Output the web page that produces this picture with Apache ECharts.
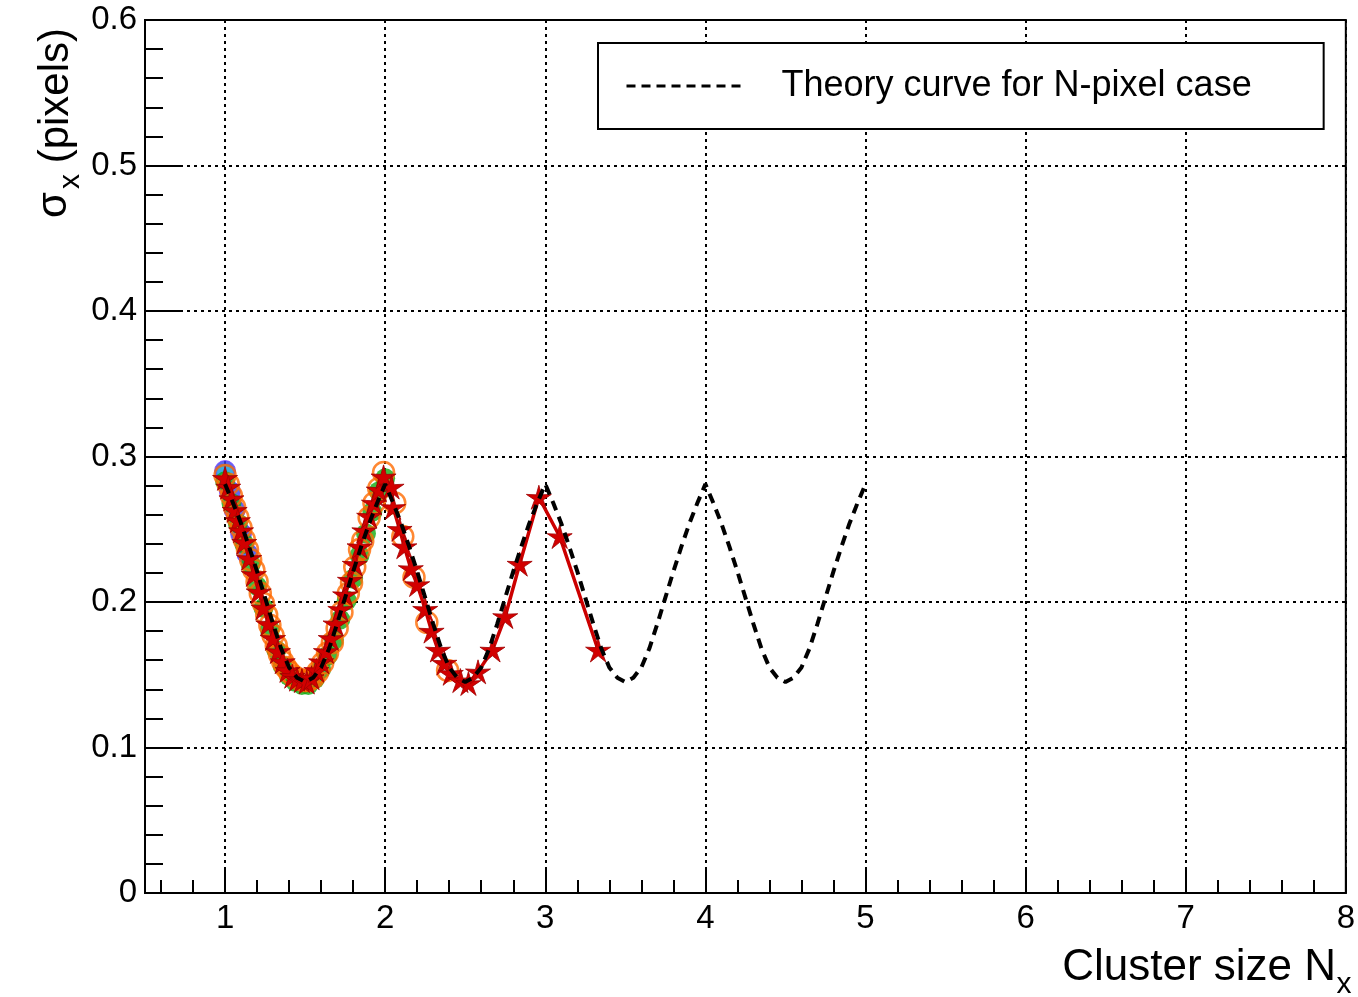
<!DOCTYPE html>
<html>
<head>
<meta charset="utf-8">
<title>Cluster size resolution</title>
<script src="https://cdn.jsdelivr.net/npm/echarts@6/dist/echarts.min.js"></script>
<style>
  html, body { margin: 0; padding: 0; background: #fff; }
  #chart { width: 1358px; height: 997px; }
</style>
</head>
<body>
<div id="chart"></div>
<script>
// ---- data ----
const xMajorTicks = [1, 2, 3, 4, 5, 6, 7, 8];
const xMinorTicks = [0.6, 0.8, 1.2, 1.4, 1.6, 1.8, 2.2, 2.4, 2.6, 2.8, 3.2, 3.4, 3.6, 3.8,
  4.2, 4.4, 4.6, 4.8, 5.2, 5.4, 5.6, 5.8, 6.2, 6.4, 6.6, 6.8, 7.2, 7.4, 7.6, 7.8];

// Theory curve for the N-pixel case
const theoryX = [
  1.00, 1.05, 1.10, 1.15, 1.20, 1.25, 1.30, 1.35, 1.40, 1.45, 1.50, 1.55, 1.60, 1.65, 1.70, 1.75, 1.80, 1.85, 1.90, 1.95,
  2.00, 2.05, 2.10, 2.15, 2.20, 2.25, 2.30, 2.35, 2.40, 2.45, 2.50, 2.55, 2.60, 2.65, 2.70, 2.75, 2.80, 2.85, 2.90, 2.95,
  3.00, 3.05, 3.10, 3.15, 3.20, 3.25, 3.30, 3.35, 3.40, 3.45, 3.50, 3.55, 3.60, 3.65, 3.70, 3.75, 3.80, 3.85, 3.90, 3.95,
  4.00, 4.05, 4.10, 4.15, 4.20, 4.25, 4.30, 4.35, 4.40, 4.45, 4.50, 4.55, 4.60, 4.65, 4.70, 4.75, 4.80, 4.85, 4.90, 4.95,
  5.00
];
const theoryY = [
  0.281, 0.268, 0.254, 0.238, 0.221, 0.203, 0.185, 0.168, 0.155, 0.148, 0.145, 0.148, 0.155, 0.168, 0.185, 0.203, 0.221, 0.238, 0.254, 0.268,
  0.281, 0.268, 0.254, 0.238, 0.221, 0.203, 0.185, 0.168, 0.155, 0.148, 0.145, 0.148, 0.155, 0.168, 0.185, 0.203, 0.221, 0.238, 0.254, 0.268,
  0.281, 0.268, 0.254, 0.238, 0.221, 0.203, 0.185, 0.168, 0.155, 0.148, 0.145, 0.148, 0.155, 0.168, 0.185, 0.203, 0.221, 0.238, 0.254, 0.268,
  0.281, 0.268, 0.254, 0.238, 0.221, 0.203, 0.185, 0.168, 0.155, 0.148, 0.145, 0.148, 0.155, 0.168, 0.185, 0.203, 0.221, 0.238, 0.254, 0.268,
  0.281
];

// Blue points (filled circles)
const blueX = [1.00, 1.03, 1.06, 1.10, 1.14];
const blueY = [0.290, 0.276, 0.263, 0.247, 0.233];

// Cyan point at the first peak
const cyanX = [1.00];
const cyanY = [0.289];

// Green points (filled circles)
const greenX = [1.00, 1.04, 1.08, 1.12, 1.16, 1.20, 1.24, 1.28, 1.32, 1.36, 1.40, 1.44, 1.48,
  1.52, 1.56, 1.60, 1.64, 1.68, 1.72, 1.76, 1.80, 1.84, 1.88, 1.92, 1.96, 2.00];
const greenY = [0.283, 0.268, 0.254, 0.240, 0.226, 0.211, 0.196, 0.181, 0.167, 0.156, 0.149, 0.145, 0.143,
  0.143, 0.147, 0.154, 0.163, 0.174, 0.188, 0.201, 0.216, 0.232, 0.247, 0.262, 0.276, 0.285];

// Orange points (open circles)
const orangeX = [1.00, 1.02, 1.04, 1.06, 1.08, 1.10, 1.12, 1.14, 1.16, 1.18, 1.20, 1.22, 1.24, 1.26, 1.28,
  1.30, 1.32, 1.34, 1.36, 1.38, 1.40, 1.43, 1.46, 1.49, 1.52, 1.55, 1.58, 1.61, 1.64, 1.67,
  1.70, 1.73, 1.77, 1.79, 1.81, 1.84, 1.86, 1.90, 1.93, 1.96, 1.99, 2.06, 2.11, 2.18, 2.26, 2.39];
const orangeY = [0.287, 0.281, 0.273, 0.265, 0.258, 0.251, 0.243, 0.236, 0.229, 0.222, 0.214, 0.206, 0.199, 0.191, 0.184,
  0.177, 0.170, 0.164, 0.159, 0.155, 0.152, 0.149, 0.147, 0.146, 0.146, 0.148, 0.152, 0.158, 0.165, 0.172,
  0.182, 0.193, 0.206, 0.213, 0.224, 0.236, 0.242, 0.258, 0.268, 0.278, 0.289, 0.268, 0.245, 0.217, 0.186, 0.153];

// Red points (stars joined by a line)
const redX = [1.00, 1.02, 1.04, 1.06, 1.08, 1.10, 1.12, 1.15, 1.18, 1.21, 1.24, 1.27, 1.30, 1.33, 1.36,
  1.39, 1.42, 1.45, 1.48, 1.51, 1.54, 1.57, 1.60, 1.63, 1.66, 1.69, 1.72, 1.75, 1.78, 1.81,
  1.84, 1.87, 1.90, 1.93, 1.96, 1.99, 2.04, 2.05, 2.09, 2.12, 2.16, 2.20, 2.25, 2.29, 2.33,
  2.37, 2.41, 2.47, 2.52, 2.58, 2.67, 2.75, 2.84, 2.96, 3.09, 3.33];
const redY = [0.285, 0.279, 0.271, 0.263, 0.256, 0.249, 0.241, 0.230, 0.219, 0.207, 0.196, 0.185, 0.175, 0.166, 0.159,
  0.153, 0.149, 0.147, 0.146, 0.145, 0.148, 0.153, 0.159, 0.166, 0.175, 0.185, 0.195, 0.205, 0.215, 0.226,
  0.238, 0.249, 0.259, 0.268, 0.277, 0.286, 0.279, 0.265, 0.250, 0.238, 0.223, 0.212, 0.195, 0.180, 0.167,
  0.158, 0.151, 0.146, 0.144, 0.152, 0.167, 0.190, 0.226, 0.272, 0.245, 0.167];

// ---- helpers ----
const pairs = (xs, ys) => xs.map((x, i) => [x, ys[i]]);
const FONT = '"Liberation Sans", Arial, Helvetica, sans-serif';
// slender five-pointed star
const STAR = 'path://M50,0 L60,36.2 L97.6,34.5 L66.2,55.3 L79.4,90.5 L50,67 L20.6,90.5 L33.8,55.3 L2.4,34.5 L40,36.2 Z';
const LEGEND_NAME = 'Theory curve for N-pixel case';

const chart = echarts.init(document.getElementById('chart'), null, { renderer: 'canvas' });

const dotted = { color: '#000', width: 2, type: [3, 4] };

chart.setOption({
  animation: false,
  backgroundColor: '#fff',
  grid: {
    left: 145, right: 6, top: 20, bottom: 104,
    show: true, borderColor: '#000', borderWidth: 2, backgroundColor: 'transparent'
  },
  legend: {
    left: 598, top: 43,
    padding: [25, 72, 25, 27],
    borderColor: '#000', borderWidth: 2, borderRadius: 0,
    backgroundColor: '#fff',
    itemWidth: 120, itemHeight: 30, itemGap: 0,
    selectedMode: false,
    lineStyle: { width: 3, type: [9, 6], color: '#000' },
    itemStyle: { opacity: 0 },
    textStyle: { fontFamily: FONT, fontSize: 36, color: '#000', padding: [0, 0, 0, 30] },
    data: [{ name: LEGEND_NAME }]
  },
  xAxis: [
    {
      type: 'value', min: 0.5, max: 8,
      axisLine: { show: true, onZero: false, lineStyle: { color: '#000', width: 2 } },
      axisTick: { show: true, inside: true, length: 26, lineStyle: { color: '#000', width: 2 }, customValues: xMajorTicks },
      axisLabel: { show: true, customValues: xMajorTicks, margin: 9, fontFamily: FONT, fontSize: 33, color: '#000' },
      splitLine: { show: true, lineStyle: dotted }
    },
    {
      type: 'value', min: 0.5, max: 8, position: 'bottom',
      axisLine: { show: false },
      axisTick: { show: true, inside: true, length: 13, lineStyle: { color: '#000', width: 2 }, customValues: xMinorTicks },
      axisLabel: { show: false },
      splitLine: { show: false }
    }
  ],
  yAxis: {
    type: 'value', min: 0, max: 0.6, interval: 0.1,
    axisLine: { show: true, onZero: false, lineStyle: { color: '#000', width: 2 } },
    axisTick: { show: true, inside: true, length: 36, lineStyle: { color: '#000', width: 2 } },
    minorTick: { show: true, splitNumber: 5, length: 18, lineStyle: { color: '#000', width: 2 } },
    axisLabel: { margin: 8, fontFamily: FONT, fontSize: 33, color: '#000' },
    splitLine: { show: true, lineStyle: dotted }
  },
  series: [
    {
      name: 'blue', type: 'scatter', data: pairs(blueX, blueY),
      symbol: 'circle', symbolSize: 21,
      itemStyle: { color: '#3344ee', borderColor: '#7a3cff', borderWidth: 1 }
    },
    {
      name: 'cyan', type: 'scatter', data: pairs(cyanX, cyanY),
      symbol: 'circle', symbolSize: 16,
      itemStyle: { color: '#33bbdd' }
    },
    {
      name: 'green', type: 'scatter', data: pairs(greenX, greenY),
      symbol: 'circle', symbolSize: 20,
      itemStyle: { color: '#11aa11' }
    },
    {
      name: 'orange', type: 'scatter', data: pairs(orangeX, orangeY),
      symbol: 'circle', symbolSize: 21,
      itemStyle: { color: 'rgba(0,0,0,0)', borderColor: '#ff6a00', borderWidth: 2.5 }
    },
    {
      name: 'red', type: 'line', data: pairs(redX, redY),
      symbol: STAR, symbolSize: [25, 24], showSymbol: true,
      lineStyle: { color: '#cc0000', width: 3.5 },
      itemStyle: { color: '#d20000', borderColor: '#a00000', borderWidth: 0.8 }
    },
    {
      name: LEGEND_NAME, type: 'line', data: pairs(theoryX, theoryY),
      symbol: 'none', showSymbol: false,
      lineStyle: { color: '#000', width: 4, type: [10, 7] },
      itemStyle: { color: '#000' },
      z: 5
    }
  ],
  graphic: [
    // x-axis title
    {
      type: 'text', x: 1336, y: 968,
      style: { text: 'Cluster size N', align: 'right', verticalAlign: 'middle', font: '44px ' + FONT, fill: '#000' }
    },
    {
      type: 'text', x: 1344, y: 985,
      style: { text: 'x', align: 'center', verticalAlign: 'middle', font: '30px ' + FONT, fill: '#000' }
    },
    // y-axis title (rotated)
    {
      type: 'text', x: 56, y: 28, rotation: Math.PI / 2,
      style: { text: '(pixels)', align: 'right', verticalAlign: 'middle', font: '42px ' + FONT, fill: '#000' }
    },
    {
      type: 'text', x: 71, y: 174, rotation: Math.PI / 2,
      style: { text: 'x', align: 'right', verticalAlign: 'middle', font: '30px ' + FONT, fill: '#000' }
    },
    {
      type: 'text', x: 54, y: 192, rotation: Math.PI / 2,
      style: { text: 'σ', align: 'right', verticalAlign: 'middle', font: '42px ' + FONT, fill: '#000' }
    }
  ]
});
</script>
</body>
</html>
